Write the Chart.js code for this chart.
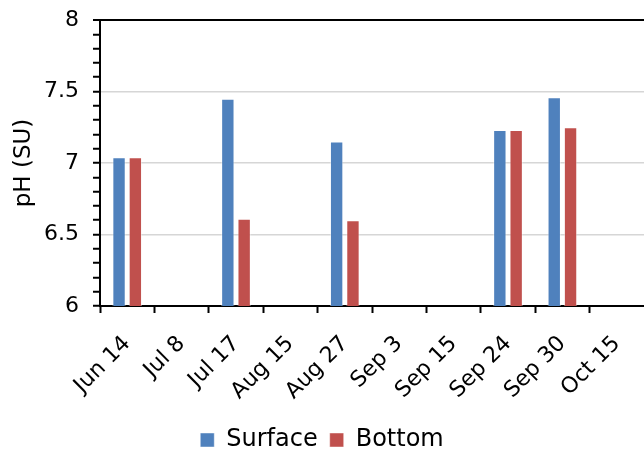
<!DOCTYPE html>
<html>
<head>
<meta charset="utf-8">
<script src="https://cdn.jsdelivr.net/npm/chart.js@4/dist/chart.umd.min.js"></script>
<style>
  html, body { margin: 0; padding: 0; background: #fff; overflow: hidden; }
  #wrap { width: 644px; height: 450px; }
</style>
</head>
<body>
<div id="wrap"><canvas id="c" width="644" height="450"></canvas></div>
<script>
// Sampling dates and pH readings (SU); null = no sample that day
const dates = ["Jun 14", "Jul 8", "Jul 17", "Aug 15", "Aug 27", "Sep 3", "Sep 15", "Sep 24", "Sep 30", "Oct 15"];
const surfacePH = [7.04, null, 7.45, null, 7.15, null, null, 7.23, 7.46, null];
const bottomPH  = [7.04, null, 6.61, null, 6.60, null, null, 7.23, 7.25, null];
const yMajorLabels = [6, 6.5, 7, 7.5, 8];

const FONT = "'DejaVu Sans', sans-serif";
const near = (a, b) => Math.abs(a - b) < 1e-6;
const isMajor = v => yMajorLabels.some(m => near(m, v));

new Chart(document.getElementById('c'), {
  type: 'bar',
  data: {
    labels: dates,
    datasets: [
      { label: 'Surface', data: surfacePH, backgroundColor: '#4F81BD',
        borderColor: 'rgba(255,255,255,0.45)', borderWidth: 1,
        categoryPercentage: 0.6, barPercentage: 0.82 },
      { label: 'Bottom', data: bottomPH, backgroundColor: '#C0504D',
        borderColor: 'rgba(255,255,255,0.45)', borderWidth: 1,
        categoryPercentage: 0.6, barPercentage: 0.82 }
    ]
  },
  options: {
    responsive: false,
    animation: false,
    layout: { padding: { top: 20, right: 0, left: 0, bottom: -12 } },
    plugins: {
      tooltip: { enabled: false },
      legend: {
        position: 'bottom',
        labels: {
          font: { family: FONT, size: 24, lineHeight: 1 },
          color: '#000',
          boxWidth: 14,
          boxHeight: 14,
          padding: 12
        }
      }
    },
    scales: {
      x: {
        afterFit: s => { s.height = 110; s.paddingLeft = 0; s.paddingRight = 0; },
        grid: {
          offset: true,
          drawOnChartArea: false,
          drawTicks: true,
          tickLength: 7,
          tickWidth: 2,
          // only category boundaries get a tick; the closing edge line is left off
          tickColor: ctx => (ctx.type === 'tick' ? '#000' : 'rgba(0,0,0,0)')
        },
        border: { color: '#000', width: 2 },
        ticks: {
          font: { family: FONT, size: 22 },
          color: '#000',
          minRotation: 45,
          maxRotation: 45,
          padding: 18,
          autoSkip: false
        }
      },
      y: {
        min: 6,
        max: 8,
        afterFit: s => { s.width = 100; s.paddingTop = 0; s.paddingBottom = 0; },
        title: {
          display: true,
          text: 'pH (SU)',
          font: { family: FONT, size: 23 },
          color: '#000',
          padding: { top: 10, bottom: 0 }
        },
        border: { color: '#000', width: 2 },
        grid: {
          color: ctx => {
            const v = ctx.tick ? ctx.tick.value : 0;
            if (near(v, 8)) return '#000';
            if (near(v, 6.5) || near(v, 7) || near(v, 7.5)) return '#d6d6d6';
            return 'rgba(0,0,0,0)';
          },
          lineWidth: ctx => (ctx.tick && near(ctx.tick.value, 8) ? 2 : 1.5),
          drawTicks: true,
          tickLength: 7,
          tickWidth: 2,
          tickColor: '#000'
        },
        ticks: {
          stepSize: 0.1,
          autoSkip: false,
          font: { family: FONT, size: 22 },
          color: '#000',
          padding: 14,
          callback: v => (isMajor(v) ? String(Math.round(v * 10) / 10) : '')
        }
      }
    }
  }
});
</script>
</body>
</html>
